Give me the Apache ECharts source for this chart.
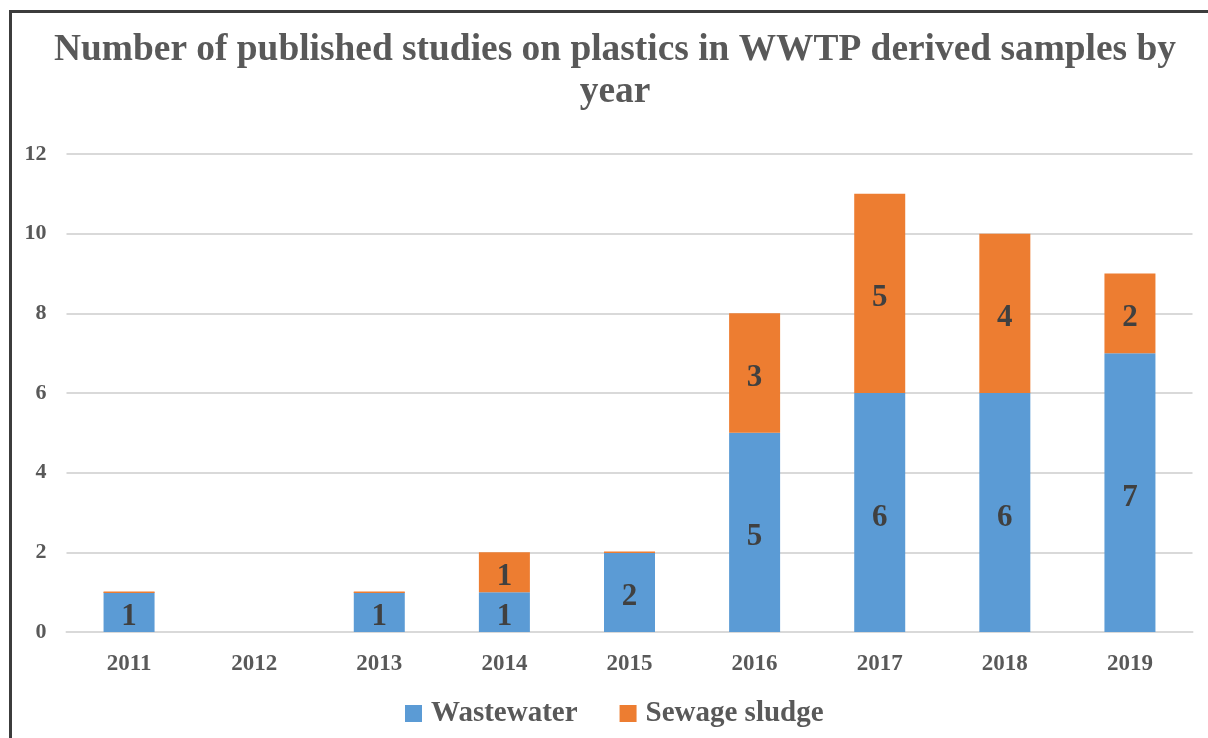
<!DOCTYPE html>
<html>
<head>
<meta charset="utf-8">
<script src="https://cdn.jsdelivr.net/npm/echarts@6/dist/echarts.min.js"></script>
<style>
html,body{margin:0;padding:0;overflow:hidden;background:#fff;}
#chart{width:1208px;height:738px;position:absolute;left:0;top:0;}
#frame{position:absolute;left:9px;top:10px;width:1400px;height:1000px;border-left:3px solid #3c3c3c;border-top:3px solid #3c3c3c;pointer-events:none;}
</style>
</head>
<body>
<div id="chart"></div>
<div id="frame"></div>
<script>
const categories = ['2011','2012','2013','2014','2015','2016','2017','2018','2019'];
const wastewater = [1, 0, 1, 1, 2, 5, 6, 6, 7];
const sewageSludge = [0, 0, 0, 1, 0, 3, 5, 4, 2];
const yTicks = [0, 2, 4, 6, 8, 10, 12];

const serif = '"Liberation Serif", "DejaVu Serif", serif';
const chart = echarts.init(document.getElementById('chart'));

const labelCfg = {
  show: true,
  position: 'inside',
  offset: [0, 5],
  fontFamily: serif,
  fontWeight: 'bold',
  fontSize: 31,
  color: '#404040',
  formatter: p => (p.value > 0 ? String(p.value) : '')
};

const sludgeData = sewageSludge.map((v, i) => {
  if (v === 0 && wastewater[i] > 0) {
    return { value: v, itemStyle: { borderColor: '#ED7D31', borderWidth: 1.5 } };
  }
  return v;
});

chart.setOption({
  animation: false,
  title: {
    text: 'Number of published studies on plastics in WWTP derived samples by\nyear',
    left: 610,
    top: 24,
    textAlign: 'center',
    textStyle: {
      fontFamily: serif,
      fontWeight: 'bold',
      fontSize: 37.4,
      lineHeight: 42,
      color: '#595959'
    }
  },
  legend: {
    bottom: 5,
    left: 400,
    itemWidth: 17,
    itemHeight: 17,
    itemGap: 42,
    icon: 'rect',
    textStyle: {
      fontFamily: serif,
      fontWeight: 'bold',
      fontSize: 29,
      color: '#595959',
      padding: [0, 0, 0, 4]
    },
    data: ['Wastewater', 'Sewage sludge']
  },
  grid: {
    left: 66.5,
    right: 15.5,
    top: 154,
    bottom: 106,
    containLabel: false
  },
  xAxis: {
    type: 'category',
    data: categories,
    axisLine: { show: true, lineStyle: { color: '#d9d9d9', width: 2 } },
    axisTick: { show: false },
    axisLabel: {
      fontFamily: serif,
      fontWeight: 'bold',
      fontSize: 23,
      color: '#595959',
      margin: 21
    }
  },
  yAxis: {
    type: 'value',
    min: yTicks[0],
    max: yTicks[yTicks.length - 1],
    interval: 2,
    axisLine: { show: false },
    axisTick: { show: false },
    splitLine: { lineStyle: { color: '#d9d9d9', width: 2 } },
    axisLabel: {
      fontFamily: serif,
      fontWeight: 'bold',
      fontSize: 22,
      color: '#595959',
      margin: 20,
      padding: [4, 0, 0, 0]
    }
  },
  series: [
    {
      name: 'Wastewater',
      type: 'bar',
      stack: 'total',
      barWidth: 51,
      data: wastewater,
      itemStyle: { color: '#5B9BD5' },
      label: labelCfg
    },
    {
      name: 'Sewage sludge',
      type: 'bar',
      stack: 'total',
      barWidth: 51,
      data: sludgeData,
      itemStyle: { color: '#ED7D31' },
      label: labelCfg
    }
  ]
});
</script>
</body>
</html>
